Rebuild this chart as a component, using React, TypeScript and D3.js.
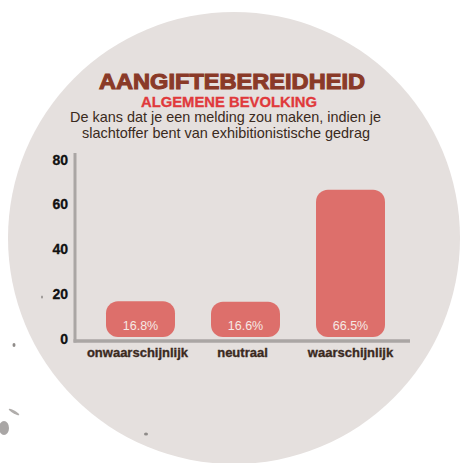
import React from "react";
import * as d3 from "d3";

const categories = ["onwaarschijnlijk", "neutraal", "waarschijnlijk"];
const values = [16.8, 16.6, 66.5];
const valueLabels = ["16.8%", "16.6%", "66.5%"];
const yTicks = [0, 20, 40, 60, 80];

const W = 460;
const H = 463;

export default function App() {
  const x = d3.scaleBand<string>().domain(categories).range([74.5, 416.5]).paddingInner(0.343).paddingOuter(0.3);
  const y = d3.scaleLinear().domain([0, 80]).range([339, 159.5]);
  const barColor = "#dd6f6b";
  const font = "'Liberation Sans', 'DejaVu Sans', sans-serif";

  return (
    <svg width={W} height={H} style={{ position: "absolute", left: 0, top: 0 }} xmlns="http://www.w3.org/2000/svg">
      <rect x={0} y={0} width={W} height={H} fill="#ffffff" />
      <circle cx={234} cy={238} r={226} fill="#e5e0de" />
      {/* splatter marks */}
      <ellipse cx={4} cy={428} rx={5} ry={7} fill="#a9a6a5" />
      <ellipse cx={14} cy={412} rx={6} ry={1.5} fill="#b0adab" transform="rotate(30 14 412)" />
      <ellipse cx={146} cy={434} rx={2} ry={1.5} fill="#8f8b89" />
      <ellipse cx={14} cy={345} rx={1.5} ry={2} fill="#8f8b89" />
      <ellipse cx={42} cy={297} rx={1} ry={1.5} fill="#9a9694" />

      <text x={232} y={89} textAnchor="middle" fontFamily={font} fontWeight={900} fontSize={22.5}
        fill="#8a3a28" stroke="#8a3a28" strokeWidth={1.1} textLength={266} lengthAdjust="spacingAndGlyphs">AANGIFTEBEREIDHEID</text>
      <text x={229} y={107} textAnchor="middle" fontFamily={font} fontWeight={700} fontSize={14}
        fill="#e0393b" stroke="#e0393b" strokeWidth={0.3} textLength={176} lengthAdjust="spacingAndGlyphs">ALGEMENE BEVOLKING</text>
      <text x={225.5} y={122} textAnchor="middle" fontFamily={font} fontSize={14.5}
        fill="#3a2a20" textLength={311} lengthAdjust="spacingAndGlyphs">De kans dat je een melding zou maken, indien je</text>
      <text x={226} y={138} textAnchor="middle" fontFamily={font} fontSize={14.5}
        fill="#3a2a20" textLength={288} lengthAdjust="spacingAndGlyphs">slachtoffer bent van exhibitionistische gedrag</text>

      {/* bars */}
      {categories.map((c, i) => {
        const bx = x(c)!;
        const bw = x.bandwidth();
        const top = Math.min(y(values[i]), y(0) - 26);
        return (
          <g key={c}>
            <rect x={bx} y={top} width={bw} height={y(0) - 2 - top} rx={12} ry={12} fill={barColor} />
            <text x={bx + bw / 2} y={330} textAnchor="middle" fontFamily={font} fontSize={12.5}
              fill="#f6e8e4">{valueLabels[i]}</text>
            <text x={bx + bw / 2 - (i === 2 ? 0 : 3)} y={357} textAnchor="middle" fontFamily={font} fontWeight={700}
              fontSize={13} fill="#3b2a1e" stroke="#3b2a1e" strokeWidth={0.35}>{c}</text>
          </g>
        );
      })}

      {/* axes */}
      <line x1={75} y1={153} x2={75} y2={342.5} stroke="#aaa6a4" strokeWidth={3} />
      <line x1={73.5} y1={341} x2={410} y2={341} stroke="#aaa6a4" strokeWidth={3.5} />
      {yTicks.map((t) => (
        <text key={t} x={68} y={y(t) + 5} textAnchor="end" fontFamily={font} fontWeight={700}
          fontSize={14} fill="#111" stroke="#111" strokeWidth={0.3}>{t}</text>
      ))}
    </svg>
  );
}
